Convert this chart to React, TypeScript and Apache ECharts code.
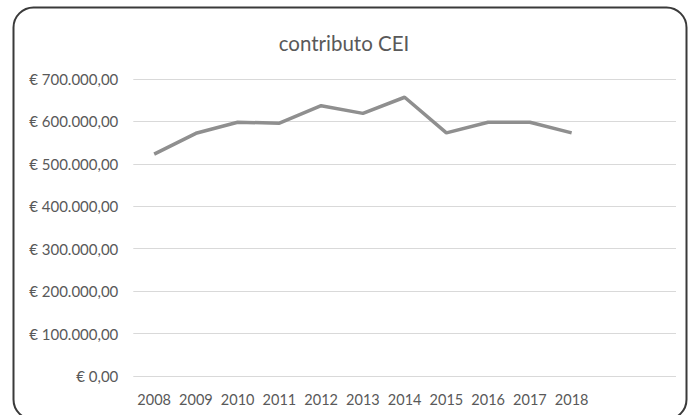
import React, { useEffect, useRef } from "react";
import * as echarts from "echarts";

const titleText = "contributo CEI";
const years = ["2008", "2009", "2010", "2011", "2012", "2013", "2014", "2015", "2016", "2017", "2018"];
const paddingCategories = ["", ""];
const contributo = [523000, 572000, 598000, 596000, 637000, 619000, 657000, 573000, 598000, 598000, 573000];
const yMin = 0;
const yMax = 700000;
const yStep = 100000;

function formatEuro(v: number): string {
  const intPart = Math.round(v).toString().replace(/\B(?=(\d{3})+(?!\d))/g, ".");
  return "€ " + intPart + ",00";
}

export default function App() {
  const ref = useRef<HTMLDivElement>(null);
  useEffect(() => {
    if (!ref.current) return;
    const chart = echarts.init(ref.current, undefined, { renderer: "svg" });
    const font = "Lato, 'Open Sans', sans-serif";
    chart.setOption({
      animation: false,
      backgroundColor: "#ffffff",
      title: {
        text: titleText,
        left: "center",
        top: 27,
        textStyle: { fontFamily: font, fontSize: 20.5, fontWeight: "normal", color: "#595959" },
      },
      graphic: [
        {
          type: "rect",
          shape: { x: 13.5, y: 7.5, width: 673, height: 412, r: 20 },
          style: { fill: "none", stroke: "#3a3a3a", lineWidth: 2 },
          silent: true,
          z: 10,
        },
      ],
      grid: { left: 133.3, right: 12, top: 79, bottom: 39, containLabel: false },
      xAxis: {
        type: "category",
        data: [...years, ...paddingCategories],
        boundaryGap: true,
        axisLine: { show: false },
        axisTick: { show: false },
        axisLabel: {
          fontFamily: font,
          fontSize: 14.5,
          color: "#595959",
          margin: 16,
          interval: 0,
        },
        splitLine: { show: false },
      },
      yAxis: {
        type: "value",
        min: yMin,
        max: yMax,
        interval: yStep,
        axisLine: { show: false },
        axisTick: { show: false },
        axisLabel: {
          fontFamily: font,
          fontSize: 15,
          color: "#595959",
          margin: 15,
          formatter: (v: number) => formatEuro(v),
        },
        splitLine: { lineStyle: { color: "#d9d9d9", width: 1 } },
      },
      series: [
        {
          type: "line",
          data: contributo,
          symbol: "none",
          lineStyle: { color: "#8f8f8f", width: 3.5 },
        },
      ],
    });
    return () => chart.dispose();
  }, []);
  return (
    <div
      ref={ref}
      style={{ position: "fixed", left: 0, top: 0, width: 688, height: 415, background: "#fff" }}
    />
  );
}
